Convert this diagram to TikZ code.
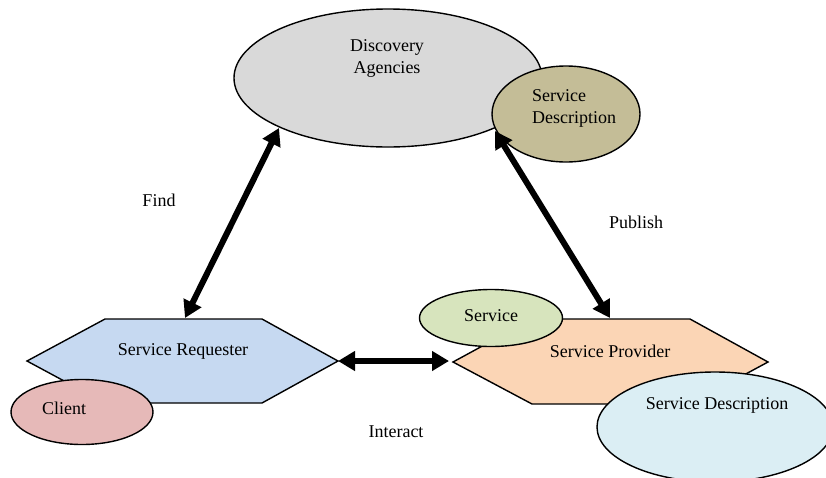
\documentclass[tikz,border=0pt]{standalone}
\usepackage{fontspec}
\setmainfont{Liberation Serif}
\usetikzlibrary{shapes.geometric,arrows.meta}
\definecolor{cDA}{HTML}{D9D9D9}
\definecolor{cSDa}{HTML}{C4BD97}
\definecolor{cSR}{HTML}{C6D9F1}
\definecolor{cCl}{HTML}{E6B9B8}
\definecolor{cSv}{HTML}{D7E4BD}
\definecolor{cSP}{HTML}{FBD5B5}
\definecolor{cSDb}{HTML}{DBEEF4}
\begin{document}
\begin{tikzpicture}[x=1pt,y=-1pt,
  shp/.style={draw=black,line width=1.4pt},
  ell/.style={shp,ellipse,inner sep=0pt},
  txt/.style={font=\fontsize{18}{22}\selectfont,inner sep=0pt,text=black},
  bigarrow/.style={line width=6pt,{Triangle[length=17pt,width=19pt]}-{Triangle[length=17pt,width=19pt]}}]
\useasboundingbox (0,0) rectangle (826,477);
\begin{scope}
\clip (0,0) rectangle (826,477);
% Discovery agencies
\node[ell,fill=cDA,minimum width=308pt,minimum height=138pt] (da) at (388,78) {};
\node[txt,align=center] (datxt) at (387,58) {Discovery\\Agencies};
\node[ell,fill=cSDa,minimum width=148pt,minimum height=96pt] (sda) at (566,114) {};
\node[txt,align=left,anchor=west] (sdatxt) at (532,108) {Service\\Description};
% Service requester
\draw[shp,fill=cSR] (27,361) -- (105,319) -- (262,319) -- (338,361) -- (262,403) -- (105,403) -- cycle;
\node[txt] (sr) at (183,351) {Service Requester};
\node[ell,fill=cCl,minimum width=142pt,minimum height=65pt] (cl) at (82,412) {};
\node[txt] (cltxt) at (64,408) {Client};
% Service provider
\draw[shp,fill=cSP] (453,362) -- (532,319) -- (690,319) -- (768,362) -- (690,404) -- (532,404) -- cycle;
\node[txt] (sp) at (610,351) {Service Provider};
\node[ell,fill=cSv,minimum width=143pt,minimum height=57pt] (sv) at (491,318) {};
\node[txt] (svtxt) at (491,316) {Service};
\node[ell,fill=cSDb,minimum width=236pt,minimum height=110pt] (sdb) at (715,427) {};
\node[txt] (sdbtxt) at (717,405) {Service Description};
\end{scope}
% connector end points
\coordinate (f1) at (185,318);
\coordinate (f2) at (279,128);
\coordinate (p1) at (495,131);
\coordinate (p2) at (610,318);
\coordinate (i1) at (338,361);
\coordinate (i2) at (449,361);
\draw[bigarrow] (f1) -- (f2);
\draw[bigarrow] (p1) -- (p2);
\draw[bigarrow] (i1) -- (i2);
% labels
\node[txt] (find) at (159,200) {Find};
\node[txt] (pub) at (636,222) {Publish};
\node[txt] (inter) at (396,432) {Interact};
\end{tikzpicture}
\end{document}
